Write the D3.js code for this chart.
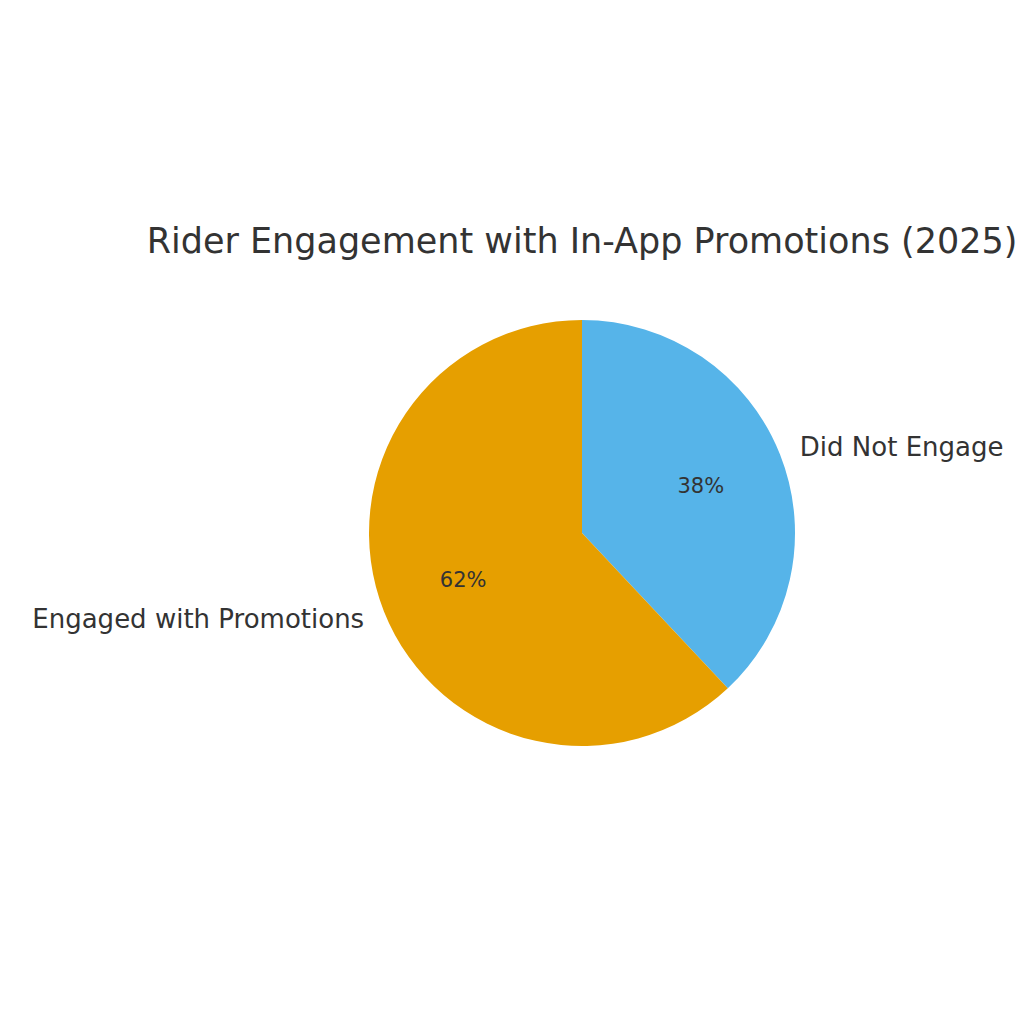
<!DOCTYPE html>
<html><head><meta charset="utf-8">
<script src="https://cdn.jsdelivr.net/npm/d3@7"></script>
<style>body{margin:0;background:#fff}</style>
</head><body>
<div id="chart"></div>
<script>
// Data
const labels = ["Did Not Engage", "Engaged with Promotions"];
const values = [38, 62];
const colors = ["#56B4E9", "#E69F00"];

const width = 1024, height = 1024;
const cx = 582, cy = 533, r = 213;

const svg = d3.select("#chart").append("svg")
    .attr("width", width).attr("height", height)
    .style("font-family", "DejaVu Sans, sans-serif");

svg.append("text")
    .attr("x", cx).attr("y", 253)
    .attr("text-anchor", "middle")
    .attr("font-size", 35)
    .attr("fill", "#333")
    .text("Rider Engagement with In-App Promotions (2025)");

const pie = d3.pie().sort(null).value(d => d)(values);
const arc = d3.arc().innerRadius(0).outerRadius(r);
const g = svg.append("g").attr("transform", `translate(${cx},${cy})`);

g.selectAll("path").data(pie).enter().append("path")
    .attr("d", arc)
    .attr("fill", (d, i) => colors[i]);

// outer labels at 1.1r
g.selectAll(".label").data(pie).enter().append("text")
    .attr("class", "label")
    .each(function(d, i) {
        const a = (d.startAngle + d.endAngle) / 2;
        const x = Math.sin(a) * r * 1.1, y = -Math.cos(a) * r * 1.1;
        d3.select(this).attr("x", x).attr("y", y)
            .attr("dy", "0.35em")
            .attr("text-anchor", x >= 0 ? "start" : "end");
    })
    .attr("font-size", 26)
    .attr("fill", "#333")
    .text((d, i) => labels[i]);

// percentages at 0.6r
g.selectAll(".pct").data(pie).enter().append("text")
    .attr("class", "pct")
    .each(function(d) {
        const a = (d.startAngle + d.endAngle) / 2;
        d3.select(this).attr("x", Math.sin(a) * r * 0.6).attr("y", -Math.cos(a) * r * 0.6);
    })
    .attr("dy", "0.35em")
    .attr("text-anchor", "middle")
    .attr("font-size", 21)
    .attr("fill", "#333")
    .text(d => d.data + "%");
</script>
</body></html>
